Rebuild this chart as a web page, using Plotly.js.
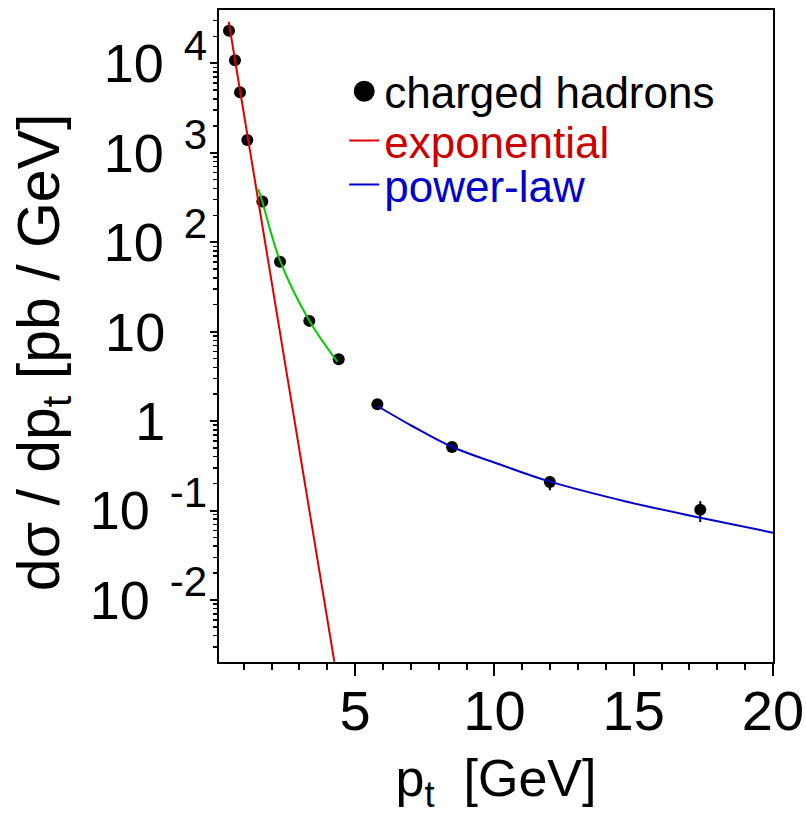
<!DOCTYPE html>
<html>
<head>
<meta charset="utf-8">
<script src="https://cdn.plot.ly/plotly-3.0.1.min.js"></script>
<style>html,body{margin:0;padding:0;background:#fff;}</style>
</head>
<body>
<div id="chart" style="width:806px;height:815px;"></div>
<script>
// ---- data ----
const ptX      = [0.474, 0.689, 0.869, 1.131, 1.670, 2.305, 3.357, 4.413, 5.799, 8.48, 11.99, 17.39];
const sigma    = [23150, 10800, 4740, 1389, 285, 60.5, 13.2, 4.91, 1.54, 0.513, 0.2084, 0.1023];
const errPlus  = [300, 150, 70, 25, 6, 1.2, 0.3, 0.12, 0.05, 0.03, 0.033, 0.025];
const errMinus = [300, 150, 70, 25, 6, 1.2, 0.3, 0.12, 0.05, 0.03, 0.040, 0.028];

const expX = [0.463, 4.255];
const expY = [29170, 0.00204];

const lowX = [1.526, 1.670, 2.305, 3.357, 4.363];
const lowY = [393.6, 283.8, 62.1, 13.25, 4.61];

const powX = [5.799, 7.092, 8.470, 10.205, 12.0, 14.754, 17.39, 20.0];
const powY = [1.475, 0.865, 0.517, 0.327, 0.2104, 0.1257, 0.0832, 0.0566];

const xTickVals = [5, 10, 15, 20];
const xTickText = ['5', '10', '15', '20'];
const xMinorVals = [1, 2, 3, 4, 6, 7, 8, 9, 11, 12, 13, 14, 16, 17, 18, 19];

const yTickVals = [1e-2, 1e-1, 1, 10, 1e2, 1e3, 1e4];
const yTickBase = ['10', '10', '1', '10', '10', '10', '10'];
const yTickExp  = ['-2', '-1', '', '', '2', '3', '4'];

const legendNames = ['charged hadrons', 'exponential', 'power-law'];

// ---- build tick labels ----
const NB = '\u00A0';
const TS = '\u2009';
const ZW = '\u200B';
const yTickText = yTickBase.map((b, i) => {
  const e = yTickExp[i];
  if (e) {
    return b + "<sup><span style='font-size:42px'>" + NB + TS + e + '</span></sup>';
  }
  return b + '<sup>' + NB + NB + NB + NB + ZW + '</sup>';
});

const yMinorVals = [];
for (let d = -3; d <= 4; d++) {
  for (let m = 2; m <= 9; m++) {
    yMinorVals.push(m * Math.pow(10, d));
  }
}

const traces = [
  { // data points
    type: 'scatter', mode: 'markers', x: ptX, y: sigma, name: legendNames[0],
    showlegend: false,
    marker: {color: 'black', size: 12, symbol: 'circle'},
    error_y: {type: 'data', symmetric: false, array: errPlus, arrayminus: errMinus,
              color: 'black', thickness: 2, width: 0},
    hoverinfo: 'x+y'
  },
  { // legend entry for the points (large dot)
    type: 'scatter', mode: 'markers', x: [null], y: [null], name: legendNames[0],
    legend: 'legend',
    marker: {color: 'black', size: 16, line: {color: 'black', width: 5}}
  },
  {
    type: 'scatter', mode: 'lines', x: expX, y: expY, name: legendNames[1],
    legend: 'legend2',
    line: {color: '#dd0000', width: 2}
  },
  {
    type: 'scatter', mode: 'lines', x: lowX, y: lowY, name: 'low-pt fit',
    showlegend: false,
    line: {color: '#00cc00', width: 2, shape: 'spline', smoothing: 1}
  },
  {
    type: 'scatter', mode: 'lines', x: powX, y: powY, name: legendNames[2],
    legend: 'legend3',
    line: {color: '#0000cc', width: 2, shape: 'spline', smoothing: 1}
  }
];

const legendBase = {
  xanchor: 'left', yanchor: 'middle', bgcolor: 'rgba(0,0,0,0)', borderwidth: 0,
  x: 0.226
};

const layout = {
  width: 806, height: 815,
  margin: {l: 219, r: 33, t: 10, b: 153, pad: 0},
  paper_bgcolor: 'white', plot_bgcolor: 'white',
  font: {family: '"Liberation Sans", Arial, Helvetica, sans-serif', color: 'black'},
  showlegend: true,
  xaxis: {
    type: 'linear', range: [0.115, 20], fixedrange: true,
    tickmode: 'array', tickvals: xTickVals, ticktext: xTickText,
    ticks: 'outside', ticklen: 12, tickwidth: 2, tickcolor: 'black',
    minor: {tickmode: 'array', tickvals: xMinorVals, ticks: 'outside', ticklen: 6, tickwidth: 2, tickcolor: 'black', showgrid: false},
    showline: true, linewidth: 2, linecolor: 'black', mirror: true,
    showgrid: false, zeroline: false,
    tickfont: {size: 56, color: 'black'},
    ticklabelstandoff: -13,
    title: {text: 'p<sub>t</sub>' + NB + NB + '[GeV]', font: {size: 52, color: 'black'}, standoff: 18},
  },
  yaxis: {
    type: 'log', range: [-2.693, 4.596], fixedrange: true,
    tickmode: 'array', tickvals: yTickVals, ticktext: yTickText,
    ticks: 'outside', ticklen: 7, tickwidth: 2, tickcolor: 'black',
    minor: {tickmode: 'array', tickvals: yMinorVals, ticks: 'outside', ticklen: 4, tickwidth: 1.5, tickcolor: 'black', showgrid: false},
    showline: true, linewidth: 2, linecolor: 'black', mirror: true,
    showgrid: false, zeroline: false,
    tickfont: {size: 54, color: 'black'},
    ticklabelstandoff: -8,
    title: {text: 'd\u03C3 / dp<sub>t</sub> [pb / GeV]' + NB + NB + ZW, font: {size: 59, color: 'black'}, standoff: 11}
  },
  legend:  Object.assign({}, legendBase, {y: 0.8747, font: {size: 44, color: 'black'}}),
  legend2: Object.assign({}, legendBase, {y: 0.7991, font: {size: 44, color: '#cc0000'}}),
  legend3: Object.assign({}, legendBase, {y: 0.7316, font: {size: 44, color: '#0000cc'}})
};

Plotly.newPlot('chart', traces, layout, {displayModeBar: false, staticPlot: true});
</script>
</body>
</html>
